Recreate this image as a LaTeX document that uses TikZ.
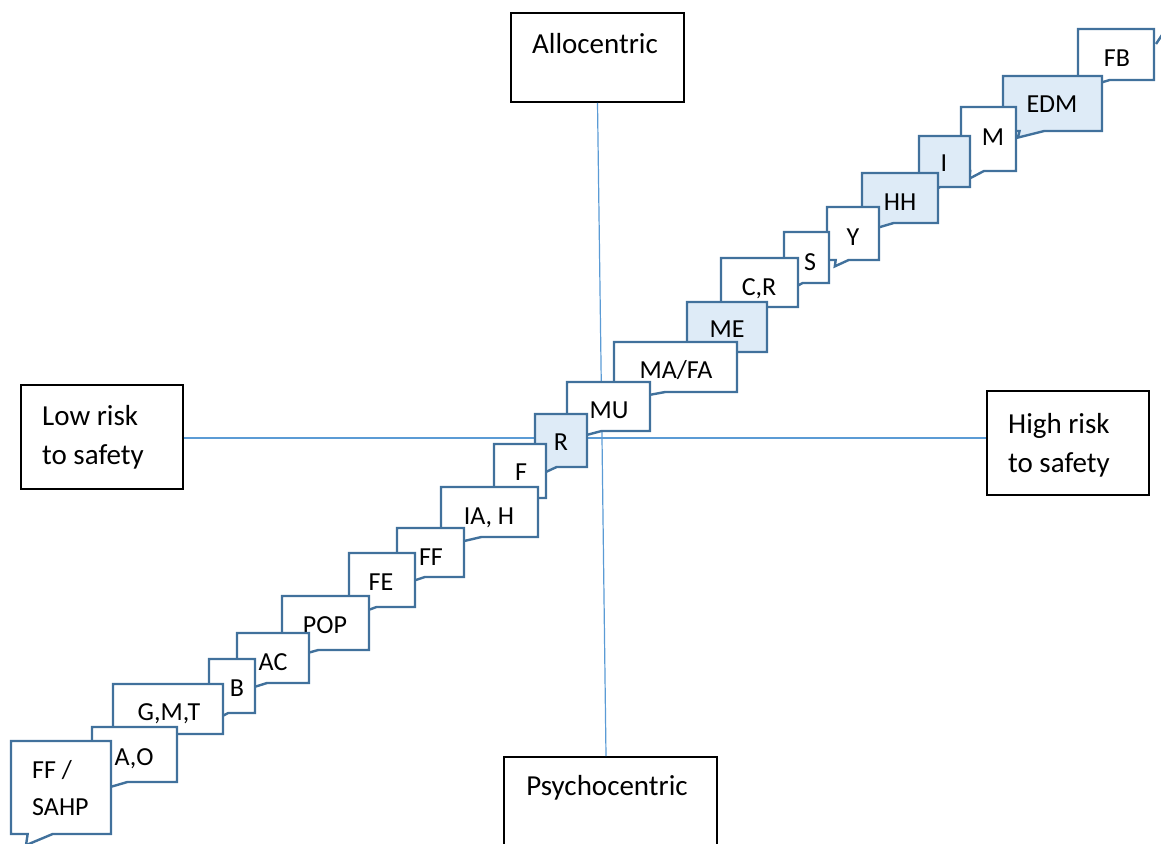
\documentclass[tikz,border=0pt]{standalone}
\usepackage{fontspec}
\setmainfont{Carlito}
\definecolor{axisblue}{HTML}{5B9BD5}
\definecolor{cborder}{HTML}{41719C}
\definecolor{cfill}{HTML}{DEEBF7}

% Rectangular callout with a short wedge pointing down-left from the bottom edge
\newcommand\calloutshape[5]{%
  \pgfmathsetmacro\cwd{#3-#1}%
  \pgfmathsetmacro\cht{#4-#2}%
  \pgfmathsetmacro\bl{#1+\cwd/6}%
  \pgfmathsetmacro\br{#1+5*\cwd/12}%
  \pgfmathsetmacro\tipx{#1+0.15*\cwd}%
  \pgfmathsetmacro\tipy{#4+0.12*\cht}%
  \filldraw[cbox, fill=#5] (#1,#2) -- (#3,#2) -- (#3,#4) -- (\br,#4)
    -- (\tipx,\tipy) -- (\bl,#4) -- (#1,#4) -- cycle;
}
% name, x1, y1, x2, y2, fill, label centre, label
\newcommand\callout[8]{%
  \calloutshape{#2}{#3}{#4}{#5}{#6}%
  \node[clabel] (#1) at (#7) {#8};
}

\begin{document}
\begin{tikzpicture}[x=1pt,y=-1pt,
  axisline/.style={draw=axisblue, line width=1.2pt},
  axisbox/.style={draw=black, line width=1.8pt, fill=white, inner sep=0pt},
  axislabel/.style={font=\fontsize{29}{39}\selectfont, inner sep=0pt},
  cbox/.style={draw=cborder, line width=2.4pt, line join=miter},
  clabel/.style={font=\fontsize{26}{37}\selectfont, inner sep=0pt,
    text height=16.7pt, text depth=0pt}
]
\useasboundingbox (0,0) rectangle (1161,843);
\clip (0,0) rectangle (1161,843);

% axis boxes
\node[axisbox, minimum width=173pt, minimum height=89pt] (allo) at (597.5,57.5) {};
\node[axisbox, minimum width=213pt, minimum height=143pt] (psy) at (610.5,828.5) {};
\node[axisbox, minimum width=162pt, minimum height=104pt] (low) at (102,437) {};
\node[axisbox, minimum width=162pt, minimum height=104pt] (high) at (1068,443) {};

% multi-line labels are placed by the baseline of their last line
\node[axislabel, anchor=base] (alloT) at (595,53) {Allocentric};
\node[axislabel, anchor=base] (psyT) at (607,795) {Psychocentric};
\node[axislabel, anchor=base west, align=left] (lowT) at (42,464) {Low risk\\to safety};
\node[axislabel, anchor=base west, align=left] (highT) at (1008,472) {High risk\\to safety};

% axes crossing
\coordinate (ctr) at (602,438);
\draw[axisline] (allo.south) -- (ctr);
\draw[axisline] (ctr) -- ([xshift=-4.5pt]psy.north);
\draw[axisline] (low.east |- ctr) -- (ctr);
\draw[axisline] (ctr) -- (high.west |- ctr);

% staircase of callouts, upper right first so lower ones overlap them
\draw[cborder, line width=2.4pt] (1156,44) -- (1162,35);
\callout{fb}{1078}{29}{1154}{80}{white}{1117,58}{FB}
\callout{edm}{1003}{76}{1102}{131}{cfill}{1052,104}{EDM}
\callout{m}{961}{107}{1016}{171}{white}{993,137}{M}
\callout{i}{919}{136}{970}{187}{cfill}{944,163}{I}
\callout{hh}{862}{173}{938}{223}{cfill}{900,202}{HH}
\callout{y}{827}{207}{879}{260}{white}{853,237}{Y}
\callout{s}{784}{232}{829}{283}{white}{810,262}{S}
\callout{cr}{721}{258}{798}{307}{white}{759,287}{C,R}
\callout{me}{687}{302}{767}{352}{cfill}{727,329}{ME}
\callout{mafa}{614}{342}{737}{392}{white}{676,370}{MA/FA}
\callout{mu}{567}{382}{650}{431}{white}{609,410}{MU}
\callout{r}{535}{414}{587}{467}{cfill}{561,442}{R}
\callout{f}{494}{444}{546}{498}{white}{521,472}{F}
\callout{iah}{441}{487}{538}{537}{white}{489,516}{IA, H}
\callout{ff}{397}{528}{464}{577}{white}{431,557}{FF}
\callout{fe}{349}{553}{415}{607}{white}{381,582}{FE}
\callout{pop}{282}{596}{369}{650}{white}{325,625}{POP}
\callout{ac}{237}{633}{309}{683}{white}{273,662}{AC}
\callout{b}{209}{659}{255}{713}{white}{237,688}{B}
\callout{gmt}{113}{684}{223}{734}{white}{169,712}{G,M,T}
\callout{ao}{92}{727}{177}{782}{white}{134,757}{A,O}
\calloutshape{11}{741}{111}{834}{white}
\node[font=\fontsize{26}{37}\selectfont, inner sep=0pt, anchor=base west, align=left]
  (ffs) at (32,815) {FF /\\SAHP};
\end{tikzpicture}
\end{document}
